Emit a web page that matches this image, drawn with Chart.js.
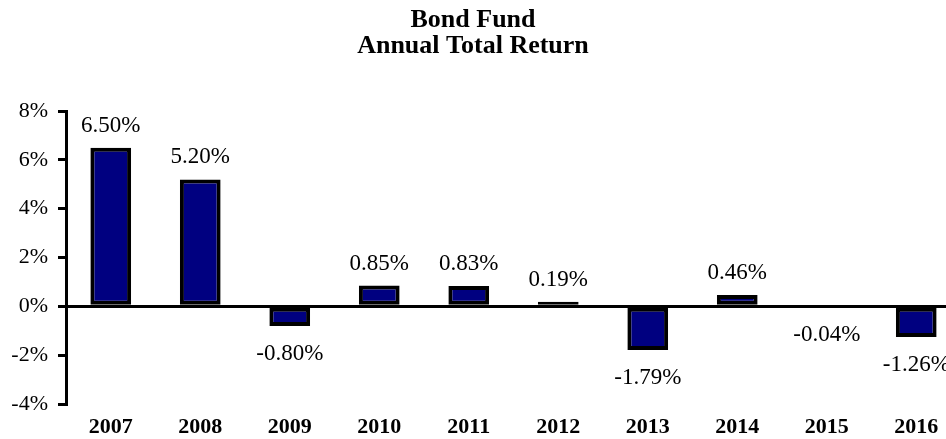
<!DOCTYPE html>
<html>
<head>
<meta charset="utf-8">
<script src="https://cdn.jsdelivr.net/npm/chart.js@4"></script>
<style>
    html, body { margin: 0; padding: 0; background: #fff; overflow: hidden; }
    #wrap { width: 946px; height: 439px; }
</style>
</head>
<body>
<div id="wrap"><canvas id="returnChart" width="946" height="439"></canvas></div>
<script>
const years = ['2007', '2008', '2009', '2010', '2011', '2012', '2013', '2014', '2015', '2016'];
const annualReturns = [6.50, 5.20, -0.80, 0.85, 0.83, 0.19, -1.79, 0.46, -0.04, -1.26];
const yTicks = [-4, -2, 0, 2, 4, 6, 8];
const titleLines = ['Bond Fund', 'Annual Total Return'];

const serif = '"Liberation Serif", "Times New Roman", serif';

// value labels above / below each bar
const valueLabels = {
    id: 'valueLabels',
    afterDatasetsDraw(chart) {
        const ctx = chart.ctx;
        const meta = chart.getDatasetMeta(0);
        ctx.save();
        ctx.font = '23px ' + serif;
        ctx.fillStyle = '#000';
        ctx.textAlign = 'center';
        ctx.textBaseline = 'middle';
        meta.data.forEach((bar, i) => {
            const v = annualReturns[i];
            const y = v >= 0 ? bar.y - 22 : bar.y + 28;
            ctx.fillText(v.toFixed(2) + '%', bar.x, y);
        });
        ctx.restore();
    }
};

// the category axis runs a bit past the right edge of the picture
const widenX = {
    id: 'widenX',
    afterLayout(chart) {
        const x = chart.scales.x;
        x.right = x.left + 895;
        x.width = x.right - x.left;
        x.configure();
    }
};

new Chart(document.getElementById('returnChart'), {
    type: 'bar',
    data: {
        labels: years,
        datasets: [{
            data: annualReturns,
            backgroundColor: '#000080',
            borderColor: '#000',
            borderWidth: 4,
            borderSkipped: false,
            barPercentage: 0.455,
            categoryPercentage: 1
        }]
    },
    options: {
        responsive: false,
        animation: false,
        layout: { padding: 0 },
        plugins: {
            legend: { display: false },
            tooltip: { enabled: false },
            title: {
                display: true,
                text: titleLines,
                color: '#000',
                font: { family: serif, size: 26, weight: 'bold', lineHeight: 1.02 },
                padding: { top: 7, bottom: 51 }
            }
        },
        scales: {
            x: {
                afterFit: s => { s.height = 35; },
                grid: { display: false, drawTicks: false },
                border: { display: false },
                ticks: {
                    autoSkip: false,
                    maxRotation: 0,
                    padding: 10,
                    color: '#000',
                    font: { family: serif, size: 22, weight: 'bold', lineHeight: 1.2 }
                }
            },
            y: {
                min: -4,
                max: 8,
                afterFit: s => { s.width = 66; },
                afterBuildTicks: s => { s.ticks = yTicks.map(v => ({ value: v })); },
                border: { display: true, color: '#000', width: 3 },
                grid: {
                    drawOnChartArea: true,
                    color: c => c.tick && c.tick.value === 0 ? '#000' : 'rgba(0,0,0,0)',
                    lineWidth: 3,
                    tickColor: '#000',
                    tickWidth: 3,
                    tickLength: 8
                },
                ticks: {
                    padding: 10,
                    color: '#000',
                    font: { family: serif, size: 22 },
                    callback: v => v + '%'
                }
            }
        }
    },
    plugins: [valueLabels, widenX]
});
</script>
</body>
</html>
